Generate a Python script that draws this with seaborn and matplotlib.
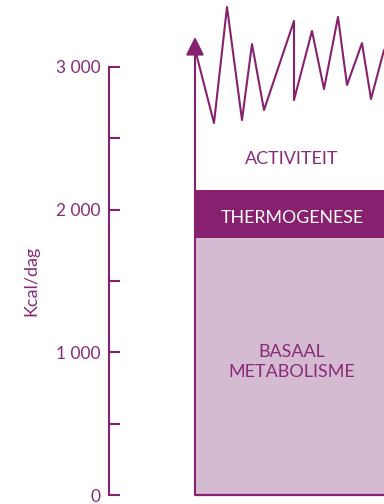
import numpy as np
import pandas as pd
import matplotlib.pyplot as plt
import seaborn as sns

sns.set_style("white")
plt.rcParams['font.family'] = ['Lato', 'DejaVu Sans']

# energieverbruik (kcal/dag)
basaal = 1800
thermogenese = 335          # 1800 -> 2135
tijd = [0.1, 1.9, 3.2, 4.7, 5.7, 6.9, 9.9, 9.9, 11.7, 12.9, 14.3, 15.2, 16.7, 17.6, 18.9]
activiteit = [3097, 2607, 3420, 2628, 3160, 2698, 3322, 2768, 3252, 2845, 3350, 2873, 3167, 2775, 3118]

yticks = [0, 500, 1000, 1500, 2000, 2500, 3000]
ylabels = ["0", "", "1 000", "", "2 000", "", "3 000"]

donker = "#87206f"
licht = "#d4bbd1"
tekst = "#8a2a78"

fig = plt.figure(figsize=(3.84, 5.04), dpi=100)
ax = fig.add_axes([109 / 384, 0, 275 / 384, 1])

# x-as: 0 = begin van de staaf (x=195 px), 1 eenheid = 10 px
ax.set_xlim(-8.6, 18.9)
ax.set_ylim(-63, 3469)

# blokken
ax.bar(0, basaal, width=40, align="edge", color=licht, linewidth=0)
ax.bar(0, thermogenese, bottom=basaal, width=40, align="edge", color=donker, linewidth=0)
ax.plot([0, 30], [0, 0], color=donker, lw=1.6, solid_capstyle="butt")

# activiteit zigzag
df = pd.DataFrame({"tijd": tijd, "kcal": activiteit})
sns.lineplot(data=df, x="tijd", y="kcal", sort=False, estimator=None,
             color=donker, lw=1.5, ax=ax)

# pijl
ax.annotate("", xy=(0, 3210), xytext=(0, 0),
            arrowprops=dict(arrowstyle="-|>,head_length=1.1,head_width=0.55",
                            color=donker, lw=1.5, shrinkA=0, shrinkB=0))

ax.text(9.7, 2352, "ACTIVITEIT", ha="center", va="center", color=tekst, fontsize=13)
ax.text(9.75, 1940, "THERMOGENESE", ha="center", va="center", color="white", fontsize=12.8)
ax.text(9.7, 935, "BASAAL\nMETABOLISME", ha="center", va="center", color=tekst,
        fontsize=13, linespacing=1.3)

# as
for s in ["top", "right", "bottom"]:
    ax.spines[s].set_visible(False)
ax.spines["left"].set_color(donker)
ax.spines["left"].set_linewidth(1.5)
ax.spines["left"].set_bounds(0, 3000)
ax.set_yticks(yticks)
ax.set_yticklabels(ylabels)
ax.tick_params(axis="y", left=True, direction="in", length=8, width=1.5, color=donker,
               labelcolor=tekst, labelsize=12.5, pad=6)
ax.set_xticks([])
ax.set_xlabel("")
ax.set_ylabel("")
fig.text(31 / 384, 1 - 281 / 504, "Kcal/dag", rotation=90, ha="center", va="center",
         color=tekst, fontsize=13)

fig.savefig("out.png", dpi=100)
